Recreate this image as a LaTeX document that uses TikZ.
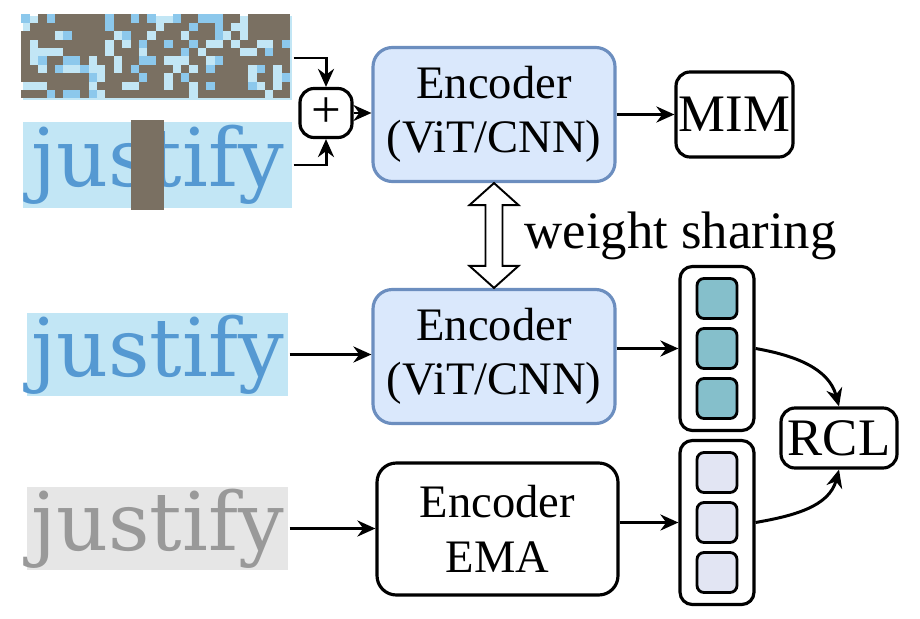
\documentclass[tikz,border=0pt]{standalone}
\usepackage{fontspec}
\setmainfont{Liberation Serif}
\newfontfamily\imgfont{DejaVu Serif}
\usetikzlibrary{arrows.meta, positioning, calc}
\definecolor{encfill}{HTML}{DAE8FC}
\definecolor{encdraw}{HTML}{6C8EBF}
\definecolor{patchgrey}{HTML}{7A7062}
\definecolor{imgblue}{HTML}{C2E6F5}
\definecolor{midblue}{HTML}{8CC8EC}
\definecolor{textblue}{HTML}{5599D2}
\definecolor{imggrey}{HTML}{E6E6E6}
\definecolor{textgrey}{HTML}{999999}
\definecolor{cteal}{HTML}{85BFCB}
\definecolor{cpale}{HTML}{E2E5F3}
\newcommand{\encfont}{\fontsize{26.5}{31}\selectfont}
\newcommand{\bigfont}{\fontsize{30}{34}\selectfont}
\tikzset{
  every picture/.style={line width=1.8pt},
  enc/.style={draw=#1, fill=encfill, rounded corners=11pt, align=center, minimum width=4.84cm, minimum height=2.68cm, font=\encfont},
  enc/.default=encdraw,
  box/.style={draw, fill=white, rounded corners=8pt, inner sep=0pt, font=\bigfont},
  img/.style={inner sep=0pt, minimum width=5.22cm, minimum height=1.66cm, font=\imgfont\fontsize{46}{50}\selectfont},
  vecbox/.style={draw, rounded corners=7pt, minimum width=1.48cm, minimum height=3.28cm},
  cell/.style={draw, fill=#1, rounded corners=4pt, line width=1.6pt, minimum size=0.8cm, inner sep=0pt},
  arrow/.style={-{Stealth[length=3.6mm, width=3.2mm]}, line width=1.7pt},
  note/.style={font=\bigfont, inner sep=0pt},
}
\newcommand{\featvec}[4]{% name, x, y, colour
  \node[vecbox] (#1) at (#2,#3) {};
  \foreach \dy in {1.0,0,-1.0}
    \node[cell=#4] at ($(#1)+(0,\dy)$) {};}

\begin{document}
\begin{tikzpicture}
  \useasboundingbox (0,0) rectangle (18.4,-12.36);
  % masked inputs
  \node[img, minimum width=5.38cm, minimum height=1.68cm, fill=imgblue] (mosaic) at (3.15,-1.16) {};
  \pgfmathsetseed{11}
  \foreach \r in {0,...,9}
    \foreach \c in {0,...,31} {
      \pgfmathsetmacro\u{rnd}
      \ifdim\u pt<0.62pt
        \fill[patchgrey] ($(mosaic.north west)+(\c*0.168,-\r*0.168)$) rectangle ++(0.168,-0.168);
      \else\ifdim\u pt<0.74pt
        \fill[midblue] ($(mosaic.north west)+(\c*0.168,-\r*0.168)$) rectangle ++(0.168,-0.168);
      \fi\fi
    }
  \node[img, minimum width=5.38cm, minimum height=1.72cm, fill=imgblue, text=textblue] (masked) at (3.15,-3.3) {justify};
  \fill[patchgrey] ($(masked.south west)+(2.2,0)$) rectangle ($(masked.north west)+(2.86,0)$);
  \node[box, minimum width=1.04cm, minimum height=0.98cm] (plus) at (6.52,-2.26) {+};
  \draw[arrow] (mosaic.east) -| (plus.north);
  \draw[arrow] (masked.east) -| (plus.south);
  % encoders
  \node[enc] (encA) at (9.88,-2.29) {Encoder\\(ViT/CNN)};
  \node[enc] (encB) at (9.88,-7.13) {Encoder\\(ViT/CNN)};
  \node[enc=black, fill=white, minimum width=4.82cm, minimum height=2.64cm] (ema) at (9.95,-10.58) {Encoder\\EMA};
  \draw[arrow] (plus.east) -- (plus.east -| encA.west);
  \node[box, minimum width=2.34cm, minimum height=1.7cm] (mim) at (14.69,-2.29) {MIM};
  \draw[arrow] (encA.east) -- (encA.east -| mim.west);
  % weight sharing
  \draw[line width=1.1pt, fill=white] (encA.south) -- ++(0.49,-0.44) -- ++(-0.32,0)
    -- ($(encB.north)+(0.17,0.44)$) -- ++(0.32,0) -- (encB.north) -- ++(-0.49,0.44) -- ++(0.32,0)
    -- ($(encA.south)+(-0.17,-0.44)$) -- ++(-0.32,0) -- cycle;
  \node[note, anchor=west] (share) at ($(encA.south)!0.5!(encB.north)+(0.58,0)$) {weight sharing};
  % unmasked views
  \node[img, fill=imgblue, text=textblue] (view) at (3.15,-7.09) {justify};
  \node[img, fill=imggrey, text=textgrey] (orig) at (3.15,-10.57) {justify};
  \draw[arrow] (view.east) -- (view.east -| encB.west);
  \draw[arrow] (orig.east) -- (orig.east -| ema.west);
  % features and RCL
  \featvec{vecA}{14.34}{-6.97}{cteal}
  \featvec{vecB}{14.34}{-10.45}{cpale}
  \draw[arrow] (vecA.west -| encB.east) -- (vecA.west);
  \draw[arrow] (vecB.west -| ema.east) -- (vecB.west);
  \node[box, minimum width=2.32cm, minimum height=1.2cm] (rcl) at (16.78,-8.76) {RCL};
  \draw[arrow] (vecA.east) to[out=-10, in=105] (rcl.north);
  \draw[arrow] (vecB.east) to[out=10, in=-105] (rcl.south);
\end{tikzpicture}
\end{document}
